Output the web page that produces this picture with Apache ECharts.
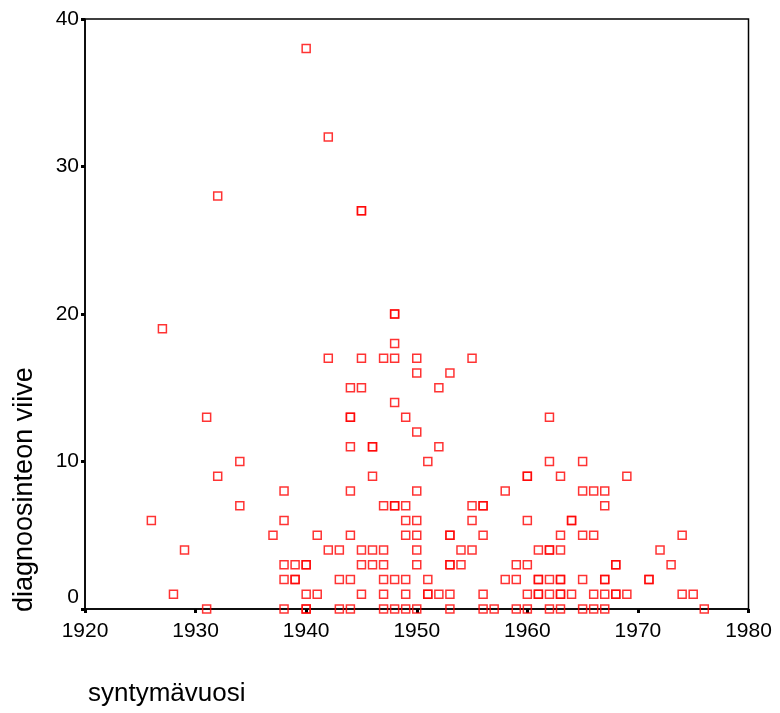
<!DOCTYPE html>
<html>
<head>
<meta charset="utf-8">
<script src="https://cdn.jsdelivr.net/npm/echarts@6/dist/echarts.min.js"></script>
<style>
html,body{margin:0;padding:0;background:#fff;}
#chart{width:780px;height:713px;}
</style>
</head>
<body>
<div id="chart"></div>
<script>
// Birth year (syntymävuosi) and diagnosis delay (diagnoosinteon viive)
var birthYear = [
  1926, 1927, 1928, 1929,
  1931, 1931,
  1932, 1932,
  1934, 1934,
  1937,
  1938, 1938, 1938, 1938, 1938,
  1939, 1939, 1939,
  1940, 1940, 1940, 1940, 1940, 1940,
  1941, 1941,
  1942, 1942, 1942,
  1943, 1943, 1943,
  1944, 1944, 1944, 1944, 1944, 1944, 1944, 1944,
  1945, 1945, 1945, 1945, 1945, 1945, 1945,
  1946, 1946, 1946, 1946, 1946,
  1947, 1947, 1947, 1947, 1947, 1947, 1947,
  1948, 1948, 1948, 1948, 1948, 1948, 1948, 1948, 1948,
  1949, 1949, 1949, 1949, 1949, 1949, 1949,
  1950, 1950, 1950, 1950, 1950, 1950, 1950, 1950, 1950,
  1951, 1951, 1951, 1951,
  1952, 1952, 1952,
  1953, 1953, 1953, 1953, 1953, 1953, 1953,
  1954, 1954,
  1955, 1955, 1955, 1955,
  1956, 1956, 1956, 1956, 1956,
  1957,
  1958, 1958,
  1959, 1959, 1959,
  1960, 1960, 1960, 1960, 1960, 1960,
  1961, 1961, 1961, 1961, 1961,
  1962, 1962, 1962, 1962, 1962, 1962, 1962,
  1963, 1963, 1963, 1963, 1963, 1963, 1963, 1963,
  1964, 1964, 1964,
  1965, 1965, 1965, 1965, 1965,
  1966, 1966, 1966, 1966,
  1967, 1967, 1967, 1967, 1967, 1967,
  1968, 1968, 1968, 1968,
  1969, 1969,
  1971, 1971,
  1972, 1973,
  1974, 1974,
  1975, 1976
];
var delay = [
  6, 19, 1, 4,
  13, 0,
  28, 9,
  10, 7,
  5,
  8, 6, 3, 2, 0,
  3, 2, 2,
  38, 3, 3, 1, 0, 0,
  5, 1,
  32, 17, 4,
  4, 2, 0,
  15, 13, 13, 11, 8, 5, 2, 0,
  27, 27, 17, 15, 4, 3, 1,
  11, 11, 9, 4, 3,
  17, 7, 4, 3, 2, 1, 0,
  20, 20, 18, 17, 14, 7, 7, 2, 0,
  13, 7, 6, 5, 2, 1, 0,
  17, 16, 12, 8, 6, 5, 4, 3, 0,
  10, 2, 1, 1,
  15, 11, 1,
  16, 5, 5, 3, 3, 1, 0,
  4, 3,
  17, 7, 6, 4,
  7, 7, 5, 1, 0,
  0,
  8, 2,
  3, 2, 0,
  9, 9, 6, 3, 1, 0,
  4, 2, 2, 1, 1,
  13, 10, 4, 4, 2, 1, 0,
  9, 5, 4, 2, 2, 1, 1, 0,
  6, 6, 1,
  10, 8, 5, 2, 0,
  8, 5, 1, 0,
  8, 7, 2, 2, 1, 0,
  3, 3, 1, 1,
  9, 1,
  2, 2,
  4, 3,
  5, 1,
  1, 0
];
var xTicks = [1920, 1930, 1940, 1950, 1960, 1970, 1980];
var yTicks = [0, 10, 20, 30, 40];
var xTitle = 'syntymävuosi';
var yTitle = 'diagnoosinteon viive';

var points = birthYear.map(function (y, i) { return [y, delay[i]]; });
var FONT = 'Liberation Sans, Arial, sans-serif';

var chart = echarts.init(document.getElementById('chart'), null, {renderer: 'canvas'});
chart.setOption({
  backgroundColor: '#ffffff',
  animation: false,
  grid: {
    left: 85, right: 31.5, top: 19, bottom: 104,
    show: true, borderColor: '#000', borderWidth: 1.5, backgroundColor: 'transparent'
  },
  xAxis: {
    type: 'value',
    min: xTicks[0], max: xTicks[xTicks.length - 1], interval: 10,
    axisLine: {show: true, onZero: false, lineStyle: {color: '#000', width: 1.5}},
    axisTick: {show: true, length: 4, lineStyle: {color: '#000', width: 3}},
    splitLine: {show: false},
    axisLabel: {
      color: '#000', fontFamily: FONT, fontSize: 21, margin: 12,
      formatter: function (v) { return String(v); }
    }
  },
  yAxis: {
    type: 'value',
    min: yTicks[0], max: yTicks[yTicks.length - 1], interval: 10,
    axisLine: {show: true, onZero: false, lineStyle: {color: '#000', width: 1.5}},
    axisTick: {show: true, length: 4, lineStyle: {color: '#000', width: 3}},
    splitLine: {show: false},
    axisLabel: {
      color: '#000', fontFamily: FONT, fontSize: 21, margin: 6,
      formatter: function (v) { return v === 0 ? '{z|0}' : String(v); },
      rich: {z: {fontFamily: FONT, fontSize: 21, color: '#000', padding: [0, 0, 24, 0]}}
    }
  },
  graphic: [
    {
      type: 'text', x: 88, y: 694,
      style: {text: xTitle, fill: '#000', font: '26px ' + FONT, textAlign: 'left', textVerticalAlign: 'middle'}
    },
    {
      type: 'text', x: 25, y: 612, rotation: Math.PI / 2,
      style: {text: yTitle, fill: '#000', font: '27px ' + FONT, textAlign: 'left', textVerticalAlign: 'middle'}
    }
  ],
  series: [{
    type: 'scatter',
    data: points,
    symbol: 'rect',
    symbolSize: 8,
    itemStyle: {color: 'rgba(255,255,255,0)', borderColor: '#ff0000', borderWidth: 1.5},
    emphasis: {disabled: true}
  }]
});
</script>
</body>
</html>
